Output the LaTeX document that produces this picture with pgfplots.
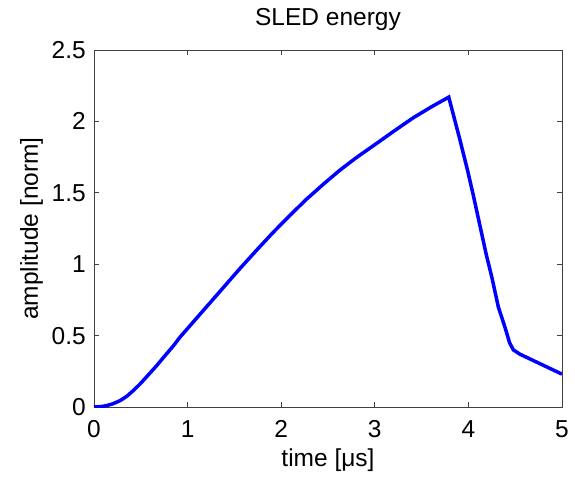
\documentclass[border=0pt]{standalone}
\usepackage{fontspec}
\setmainfont{Liberation Sans}
\usepackage{pgfplots}
\pgfplotsset{compat=1.18}
\newcommand{\chartfont}{\fontsize{24.5}{28}\selectfont}
\begin{document}
\begin{tikzpicture}
\path[use as bounding box] (-94pt,-69.3pt) rectangle (481pt,407pt);
\begin{axis}[
  scale only axis,
  width=468pt, height=357pt,
  xmin=0, xmax=5, ymin=0, ymax=2.5,
  xtick={0,1,2,3,4,5},
  ytick={0,0.5,1,1.5,2,2.5},
  tick align=inside,
  major tick length=5pt,
  axis line style={black!75, line width=0.9pt},
  every tick/.style={black!75, line width=0.9pt},
  /pgf/number format/assume math mode=true,
  title={SLED energy},
  title style={font=\chartfont, at={(axis description cs:0.5,1.0513)}, anchor=base},
  xlabel={time [μs]},
  xlabel style={font=\chartfont, at={(axis description cs:0.5,-0.1653)}, anchor=base},
  ylabel={amplitude [norm]},
  ylabel style={font=\chartfont, at={(axis description cs:-0.1197,0.5)}, anchor=base, rotate=0},
  xticklabel style={font=\chartfont, anchor=base, yshift=-30.6pt, inner sep=0pt},
  yticklabel style={font=\chartfont, anchor=east, inner sep=0pt, xshift=-8pt},
]
\addplot[color=blue, line width=3.5pt, line join=miter] coordinates {
(0,0) (0.08,0.003) (0.135,0.01) (0.2,0.022) (0.28,0.045) (0.35,0.075) (0.42,0.115)
(0.49,0.16) (0.56,0.21) (0.67,0.29) (0.74,0.345) (0.85,0.43) (0.92,0.49)
(1.02,0.565) (1.10,0.625) (1.20,0.70) (1.38,0.835) (1.56,0.97) (1.74,1.10)
(1.91,1.22) (2.09,1.34) (2.27,1.455) (2.45,1.56) (2.63,1.66) (2.80,1.745)
(3.05,1.86) (3.2,1.93) (3.41,2.025) (3.6,2.10) (3.79,2.17)
(3.91,1.87) (3.99,1.66) (4.05,1.49) (4.12,1.28) (4.19,1.07)
(4.25,0.91) (4.32,0.70) (4.39,0.56) (4.44,0.45) (4.48,0.40)
(4.55,0.37) (5,0.23)
};
\end{axis}
\end{tikzpicture}
\end{document}
